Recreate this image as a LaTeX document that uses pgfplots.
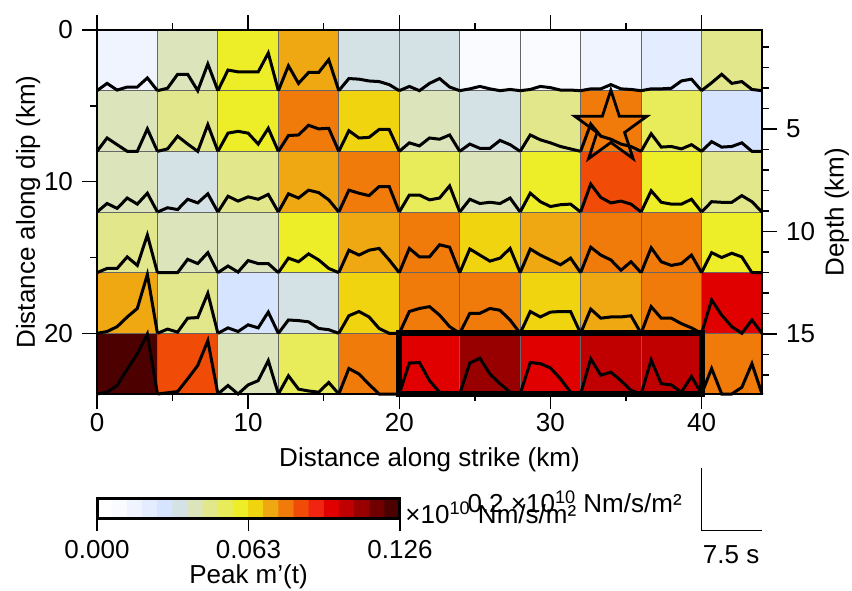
\documentclass[border=0pt]{standalone}
\usepackage{fontspec}
\setmainfont{Liberation Sans}
\usepackage{pgfplots}
\pgfplotsset{compat=1.18}
\usepackage{pgfplotstable}

% five-pointed hypocentre star, outline only
\pgfdeclareplotmark{hypostar}{%
  \pgfpathmoveto{\pgfpointpolar{90}{\pgfplotmarksize}}%
  \pgfpathlineto{\pgfpointpolar{126}{0.382*\pgfplotmarksize}}%
  \pgfpathlineto{\pgfpointpolar{162}{\pgfplotmarksize}}%
  \pgfpathlineto{\pgfpointpolar{198}{0.382*\pgfplotmarksize}}%
  \pgfpathlineto{\pgfpointpolar{234}{\pgfplotmarksize}}%
  \pgfpathlineto{\pgfpointpolar{270}{0.382*\pgfplotmarksize}}%
  \pgfpathlineto{\pgfpointpolar{306}{\pgfplotmarksize}}%
  \pgfpathlineto{\pgfpointpolar{342}{0.382*\pgfplotmarksize}}%
  \pgfpathlineto{\pgfpointpolar{18}{\pgfplotmarksize}}%
  \pgfpathlineto{\pgfpointpolar{54}{0.382*\pgfplotmarksize}}%
  \pgfpathclose
  \pgfusepathqstroke
}

% peak moment rate of each subfault (colour class 0..19), rows top to bottom
\pgfplotstableread{
x y c
2 2 2
6 2 6
10 2 9
14 2 11
18 2 5
22 2 5
26 2 1
30 2 1
34 2 2
38 2 3
42 2 7
2 6 6
6 6 7
10 6 9
14 6 12
18 6 10
22 6 6
26 6 5
30 6 7
34 6 12
38 6 8
42 6 4
2 10 6
6 10 5
10 10 7
14 10 11
18 10 12
22 10 8
26 10 6
30 10 9
34 10 13
38 10 9
42 10 7
2 14 7
6 14 6
10 14 6
14 14 9
18 14 11
22 14 12
26 14 10
30 14 11
34 14 12
38 14 12
42 14 9
2 18 11
6 18 7
10 18 4
14 18 5
18 18 10
22 18 12
26 18 12
30 18 10
34 18 11
38 18 12
42 18 15
2 22 19
6 22 13
10 22 6
14 22 8
18 22 12
22 22 15
26 22 17
30 22 15
34 22 16
38 22 16
42 22 12
}\cells

% moment rate functions m'(t) (10^10 Nm/s/m^2), 7 samples per subfault
\pgfplotstableread{
i c1 c2 c3 c4 c5 c6 c7 c8 c9 c10 c11
0 0 0 0 0 0 0 0 0 0 0 0
1 .024 .008 .068 .082 .040 .014 .006 .004 .006 .006 .026
2 .002 .054 .062 .024 .038 0 .014 .014 .006 .006 .054
3 .012 .054 .062 .060 .032 .024 .006 .010 .020 .008 .024
4 .012 0 .062 .060 .030 .040 0 .002 .006 .032 .030
5 .042 .088 .124 .102 .020 .012 .004 .002 .004 .038 .004
6 0 0 0 0 0 0 0 0 0 0 0
}\mrfA
\pgfplotstableread{
i c1 c2 c3 c4 c5 c6 c7 c8 c9 c10 c11
0 0 0 0 0 0 0 0 0 0 0 0
1 .044 .008 .060 .052 .068 .028 .024 .054 .090 .058 .032
2 .022 .050 .066 .054 .044 .018 .010 .038 .050 .014 .014
3 0 .024 .060 .086 .046 .044 .010 .028 .040 .016 .016
4 0 0 .024 .074 .072 .040 .036 .016 .024 .008 .028
5 .074 .088 .076 .076 .072 .054 .022 .008 .016 .022 0
6 0 0 0 0 0 0 0 0 0 0 0
}\mrfB
\pgfplotstableread{
i c1 c2 c3 c4 c5 c6 c7 c8 c9 c10 c11
0 0 0 0 0 0 0 0 0 0 0 0
1 .028 .014 .052 .060 .072 .056 .042 .062 .092 .070 .034
2 .012 .008 .036 .046 .062 .056 .028 .034 .048 .032 .032
3 .046 .042 .050 .072 .054 .040 .032 .018 .030 .026 .032
4 .026 .030 .042 .064 .084 .046 .028 .024 .036 .026 .054
5 .062 .060 .058 .040 .084 .086 .046 .026 .026 .042 .034
6 0 0 0 0 0 0 0 0 0 0 0
}\mrfC
\pgfplotstableread{
i c1 c2 c3 c4 c5 c6 c7 c8 c9 c10 c11
0 0 0 0 0 0 0 0 0 0 0 0
1 .014 0 .022 .048 .074 .080 .078 .078 .084 .082 .066
2 .014 0 .002 .036 .058 .052 .058 .058 .058 .036 .050
3 .052 .044 .040 .062 .074 .052 .038 .042 .042 .024 .064
4 .024 .030 .030 .042 .080 .092 .048 .026 .008 .030 .052
5 .124 .066 .030 .014 .042 .084 .080 .048 .036 .058 0
6 0 0 0 0 0 0 0 0 0 0 0
}\mrfD
\pgfplotstableread{
i c1 c2 c3 c4 c5 c6 c7 c8 c9 c10 c11
0 0 0 0 0 0 0 0 0 0 0 0
1 .006 .014 .018 .044 .058 .072 .066 .072 .080 .088 .110
2 .022 .004 .006 .042 .072 .082 .066 .054 .050 .050 .060
3 .054 .050 .028 .038 .054 .088 .082 .070 .054 .050 .022
4 .082 .052 .018 .016 .016 .060 .076 .072 .054 .032 0
5 .194 .132 .070 .012 0 .022 .044 .072 .058 .018 .044
6 0 0 0 0 0 0 0 0 0 0 0
}\mrfE
\pgfplotstableread{
i c1 c2 c3 c4 c5 c6 c7 c8 c9 c10 c11
0 0 0 0 0 0 0 0 0 0 0 0
1 .006 .004 .028 .060 .084 .102 .102 .104 .116 .112 .084
2 .028 .008 0 .016 .066 .104 .118 .100 .062 .034 0
3 .082 .050 .030 .010 .032 .044 .066 .086 .072 .030 0
4 .132 .094 .044 .006 0 .006 .034 .050 .044 .006 .022
5 .198 .176 .110 .038 0 0 .006 .006 .012 .058 .100
6 0 0 0 0 0 0 0 0 0 0 0
}\mrfF

% colour scale classes
\pgfplotstableread{
x y c
0.5 0.25 0
1.5 0.25 1
2.5 0.25 2
3.5 0.25 3
4.5 0.25 4
5.5 0.25 5
6.5 0.25 6
7.5 0.25 7
8.5 0.25 8
9.5 0.25 9
10.5 0.25 10
11.5 0.25 11
12.5 0.25 12
13.5 0.25 13
14.5 0.25 14
15.5 0.25 15
16.5 0.25 16
17.5 0.25 17
18.5 0.25 18
19.5 0.25 19
0.5 0.75 0
1.5 0.75 1
2.5 0.75 2
3.5 0.75 3
4.5 0.75 4
5.5 0.75 5
6.5 0.75 6
7.5 0.75 7
8.5 0.75 8
9.5 0.75 9
10.5 0.75 10
11.5 0.75 11
12.5 0.75 12
13.5 0.75 13
14.5 0.75 14
15.5 0.75 15
16.5 0.75 16
17.5 0.75 17
18.5 0.75 18
19.5 0.75 19
}\scaletab

\pgfplotsset{
  peakmap/.style={
    colormap={peak}{rgb255=(255,255,255) rgb255=(249,251,255) rgb255=(240,244,255)
      rgb255=(228,236,255) rgb255=(214,228,255) rgb255=(212,226,230) rgb255=(219,228,187)
      rgb255=(227,231,140) rgb255=(232,235,90) rgb255=(238,238,40) rgb255=(240,212,16)
      rgb255=(240,168,18) rgb255=(240,122,10) rgb255=(240,76,8) rgb255=(240,36,16)
      rgb255=(224,0,0) rgb255=(192,0,0) rgb255=(152,0,0) rgb255=(112,0,0) rgb255=(76,0,0)},
    colormap access=direct,
  },
  mrf/.style={black, line width=1.5pt, mark=none},
}

% one row of subfault moment rate functions: #1 table, #2 row number from the top
\newcommand\mrfrow[2]{%
  \pgfplotsinvokeforeach{1,...,11}{%
    \addplot[mrf] table[x expr={4*(##1-1)+\thisrow{i}*2/3}, y expr={4*#2-20*\thisrow{c##1}}] {#1};
  }%
}

\begin{document}
\fontsize{13}{15.6}\selectfont
\begin{tikzpicture}
\useasboundingbox (-48.5pt,-98pt) rectangle (377.5pt,197pt);

\begin{axis}[
  name=main, at={(0pt,0pt)}, anchor=south west,
  scale only axis, width=332.5pt, height=182pt,
  xmin=0, xmax=44, ymin=0, ymax=24, y dir=reverse,
  peakmap, clip=false, axis on top,
  axis line style={line width=1.3pt},
  tick align=outside,
  xtick={0,10,...,40}, minor xtick={5,15,...,35},
  ytick={0,10,20}, minor ytick={5,15},
  xtick pos=both, xticklabel pos=left, ytick pos=left,
  major tick length=7.5pt, minor tick length=3.5pt,
  every tick/.style={black, line width=0.7pt},
  /pgf/number format/assume math mode=true,
  xticklabel style={yshift=2.5pt},
  xlabel={Distance along strike (km)},
  xlabel style={yshift=1pt},
  ylabel={Distance along dip (km)},
  ylabel style={yshift=-7pt},
]
\addplot[matrix plot*, mesh/cols=11, point meta=explicit] table[meta=c] {\cells};

% subfault boundaries
\pgfplotsinvokeforeach{4,8,...,40}{%
  \addplot[black!60, line width=0.5pt] coordinates {(#1,0) (#1,24)};
}
\pgfplotsinvokeforeach{4,8,...,20}{%
  \addplot[black!60, line width=0.5pt] coordinates {(0,#1) (44,#1)};
}

\mrfrow{\mrfA}{1}
\mrfrow{\mrfB}{2}
\mrfrow{\mrfC}{3}
\mrfrow{\mrfD}{4}
\mrfrow{\mrfE}{5}
\mrfrow{\mrfF}{6}

% large-slip patch
\addplot[black, line width=3pt, line join=miter] coordinates {(20,20) (40,20) (40,24) (20,24) (20,20) (40,20)};

% hypocentre
\addplot[only marks, mark=hypostar, mark size=18.95pt, mark options={line width=1.4pt, black}] coordinates {(34,6.46)};

% amplitude and time scale
\draw[black, line width=0.7pt] (axis cs:40,28.9) -- (axis cs:40,33) -- (axis cs:44,33);
\node[anchor=center, inner sep=0pt] at (axis cs:41.96,34.6) {7.5 s};
\node[anchor=west, inner sep=0pt] at (axis cs:24.49,31.11) {0.2 ×10\textsuperscript{10} Nm/s/m²};
\node[anchor=west, inner sep=0pt] at (axis cs:20.38,31.84) {×10\textsuperscript{10} Nm/s/m²};
\end{axis}

% depth of the fault plane
\begin{axis}[
  at={(0pt,0pt)}, anchor=south west,
  scale only axis, width=332.5pt, height=182pt,
  xmin=0, xmax=44, ymin=0.17, ymax=17.93, y dir=reverse,
  axis x line=none, axis y line*=right,
  axis line style={line width=1.3pt, -},
  tick align=outside,
  ytick={5,10,15}, minor ytick={1,2,3,4,6,7,8,9,11,12,13,14,16,17},
  major tick length=7.5pt, minor tick length=3.5pt,
  every tick/.style={black, line width=0.7pt},
  /pgf/number format/assume math mode=true,
  ylabel={Depth (km)},
  ylabel style={yshift=4pt},
]
\end{axis}

% colour scale
\begin{axis}[
  at={(0pt,-52pt)}, anchor=north west,
  scale only axis, width=151.5pt, height=10pt,
  xmin=0, xmax=20, ymin=0, ymax=1,
  peakmap, axis on top,
  axis line style={line width=1.5pt},
  tick align=outside, xtick pos=left, ytick=\empty,
  xtick={0,10,20}, xticklabels={0.000,0.063,0.126},
  major tick length=6.5pt,
  every tick/.style={black, line width=0.7pt},
  xlabel={Peak m’(t)},
  xlabel style={yshift=6pt},
]
\addplot[matrix plot*, mesh/cols=20, point meta=explicit] table[meta=c] {\scaletab};
\end{axis}
\end{tikzpicture}
\end{document}
